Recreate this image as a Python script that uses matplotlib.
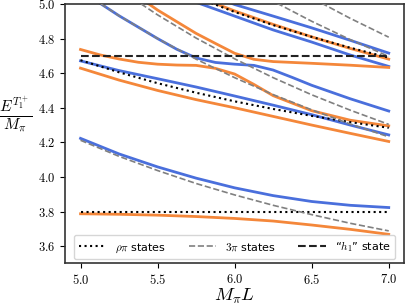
import numpy as np
import matplotlib
matplotlib.use("Agg")
import matplotlib.pyplot as plt

plt.rcParams['mathtext.fontset'] = 'cm'

# box sizes M_pi L
L9 = [5.0, 5.25, 5.5, 5.75, 6.0, 6.25, 6.5, 6.75, 7.0]

# non-interacting levels
rho_pi_0_L = [5.0, 7.0]
rho_pi_0 = [3.80, 3.80]
rho_pi_1 = [4.675, 4.605, 4.542, 4.487, 4.437, 4.393, 4.353, 4.317, 4.284]
rho_pi_2_L = [5.75, 6.0, 6.25, 6.5, 6.75, 7.0]
rho_pi_2 = [5.039, 4.954, 4.878, 4.810, 4.747, 4.690]

three_pi_a = [4.212, 4.119, 4.037, 3.962, 3.896, 3.836, 3.782, 3.732, 3.688]
three_pi_b_L = [5.25, 5.5, 5.75, 6.0, 6.25, 6.5, 6.75, 7.0]
three_pi_b = [5.085, 4.937, 4.803, 4.683, 4.574, 4.475, 4.386, 4.304]
three_pi_c = [5.078, 4.932, 4.800, 4.681, 4.574, 4.476, 4.388, 4.306, 4.232]
three_pi_d_L = [6.0, 6.25, 6.5, 6.75, 7.0]
three_pi_d = [5.142, 5.016, 4.900, 4.794, 4.697]
three_pi_e_L = [6.25, 6.5, 6.75, 7.0]
three_pi_e = [5.164, 5.035, 4.917, 4.808]

h1_L = [5.0, 7.0]
h1 = [4.70, 4.70]

# interacting levels
blue_1 = [4.223, 4.133, 4.058, 3.993, 3.937, 3.892, 3.858, 3.836, 3.823]
blue_2 = [4.671, 4.615, 4.568, 4.52, 4.468, 4.415, 4.36, 4.30, 4.243]
blue_3_L = [5.0, 5.25, 5.5, 5.625, 5.75, 5.875, 6.0, 6.125, 6.25, 6.375, 6.5, 6.75, 7.0]
blue_3 = [5.078, 4.932, 4.80, 4.738, 4.688, 4.662, 4.652, 4.645, 4.618, 4.575, 4.53, 4.452, 4.381]
blue_4_L = [5.875, 6.0, 6.25, 6.5, 6.75, 7.0]
blue_4 = [5.04, 4.997, 4.93, 4.862, 4.79, 4.716]
blue_5_L = [5.75, 6.0, 6.25, 6.5, 6.75, 7.0]
blue_5 = [5.01, 4.93, 4.85, 4.78, 4.705, 4.639]

orange_1 = [3.787, 3.784, 3.779, 3.771, 3.760, 3.745, 3.722, 3.697, 3.668]
orange_2 = [4.629, 4.56, 4.50, 4.447, 4.40, 4.35, 4.30, 4.252, 4.205]
orange_3_L = [5.0, 5.125, 5.25, 5.375, 5.5, 5.625, 5.75, 5.875, 6.0, 6.125, 6.25, 6.5, 6.75, 7.0]
orange_3 = [4.737, 4.706, 4.682, 4.663, 4.652, 4.647, 4.645, 4.628, 4.595, 4.535, 4.47, 4.383, 4.328, 4.295]
orange_4_L = [5.25, 5.5, 5.75, 5.875, 6.0, 6.125, 6.25, 6.5, 6.75, 7.0]
orange_4 = [5.12, 4.965, 4.83, 4.772, 4.715, 4.68, 4.667, 4.657, 4.646, 4.633]
orange_5_L = [5.75, 6.0, 6.25, 6.5, 6.75, 7.0]
orange_5 = [5.045, 4.96, 4.882, 4.81, 4.743, 4.681]

blue = '#4a6fdc'
orange = '#f4873a'

fig, ax = plt.subplots(figsize=(4.07, 3.07), dpi=100)

lw = 2.0
for xs, ys in [(L9, blue_1), (L9, blue_2), (blue_3_L, blue_3),
               (blue_4_L, blue_4), (blue_5_L, blue_5)]:
    ax.plot(xs, ys, color=blue, lw=lw, zorder=2)
for xs, ys in [(L9, orange_1), (L9, orange_2), (orange_3_L, orange_3),
               (orange_4_L, orange_4), (orange_5_L, orange_5)]:
    ax.plot(xs, ys, color=orange, lw=lw, zorder=2)

# free levels
ax.plot(rho_pi_0_L, rho_pi_0, color='black', ls=':', lw=1.5, zorder=3, label=r'$\rho\pi$ states')
ax.plot(L9, rho_pi_1, color='black', ls=':', lw=1.5, zorder=3)
ax.plot(rho_pi_2_L, rho_pi_2, color='black', ls=':', lw=1.5, zorder=3)

ax.plot(L9, three_pi_a, color='gray', ls='--', lw=1.2, zorder=3, label=r'$3\pi$ states')
ax.plot(three_pi_b_L, three_pi_b, color='gray', ls='--', lw=1.2, zorder=3)
ax.plot(L9, three_pi_c, color='gray', ls='--', lw=1.2, zorder=3)
ax.plot(three_pi_d_L, three_pi_d, color='gray', ls='--', lw=1.2, zorder=3)
ax.plot(three_pi_e_L, three_pi_e, color='gray', ls='--', lw=1.2, zorder=3)

ax.plot(h1_L, h1, color='#222222', ls='--', lw=1.5, zorder=3, label=r'“$h_1$” state')

ax.set_xlim(4.9, 7.1)
ax.set_ylim(3.5, 5.0)
ax.set_xticks([5.0, 5.5, 6.0, 6.5, 7.0])
ax.set_yticks([3.6, 3.8, 4.0, 4.2, 4.4, 4.6, 4.8, 5.0])
ax.set_xticklabels([f'${v:.1f}$' for v in ax.get_xticks()], fontsize=9)
ax.set_yticklabels([f'${v:.1f}$' for v in ax.get_yticks()], fontsize=9)

for s in ax.spines.values():
    s.set_linewidth(1.2)
    s.set_color('#333333')

ax.set_xlabel(r'$M_\pi L$', fontsize=13.5, labelpad=-1)
ax.set_ylabel(r'$\frac{E^{T_1^+}}{M_\pi}$', fontsize=16, rotation=0, va='center')
ax.yaxis.set_label_coords(-0.145, 0.575)

ax.legend(loc='lower center', ncol=3, fontsize=8, handlelength=2.5,
          columnspacing=2.0, borderaxespad=0.4, fancybox=True)

fig.subplots_adjust(left=0.16, right=0.993, top=0.987, bottom=0.142)
fig.savefig('out.png', dpi=100)
